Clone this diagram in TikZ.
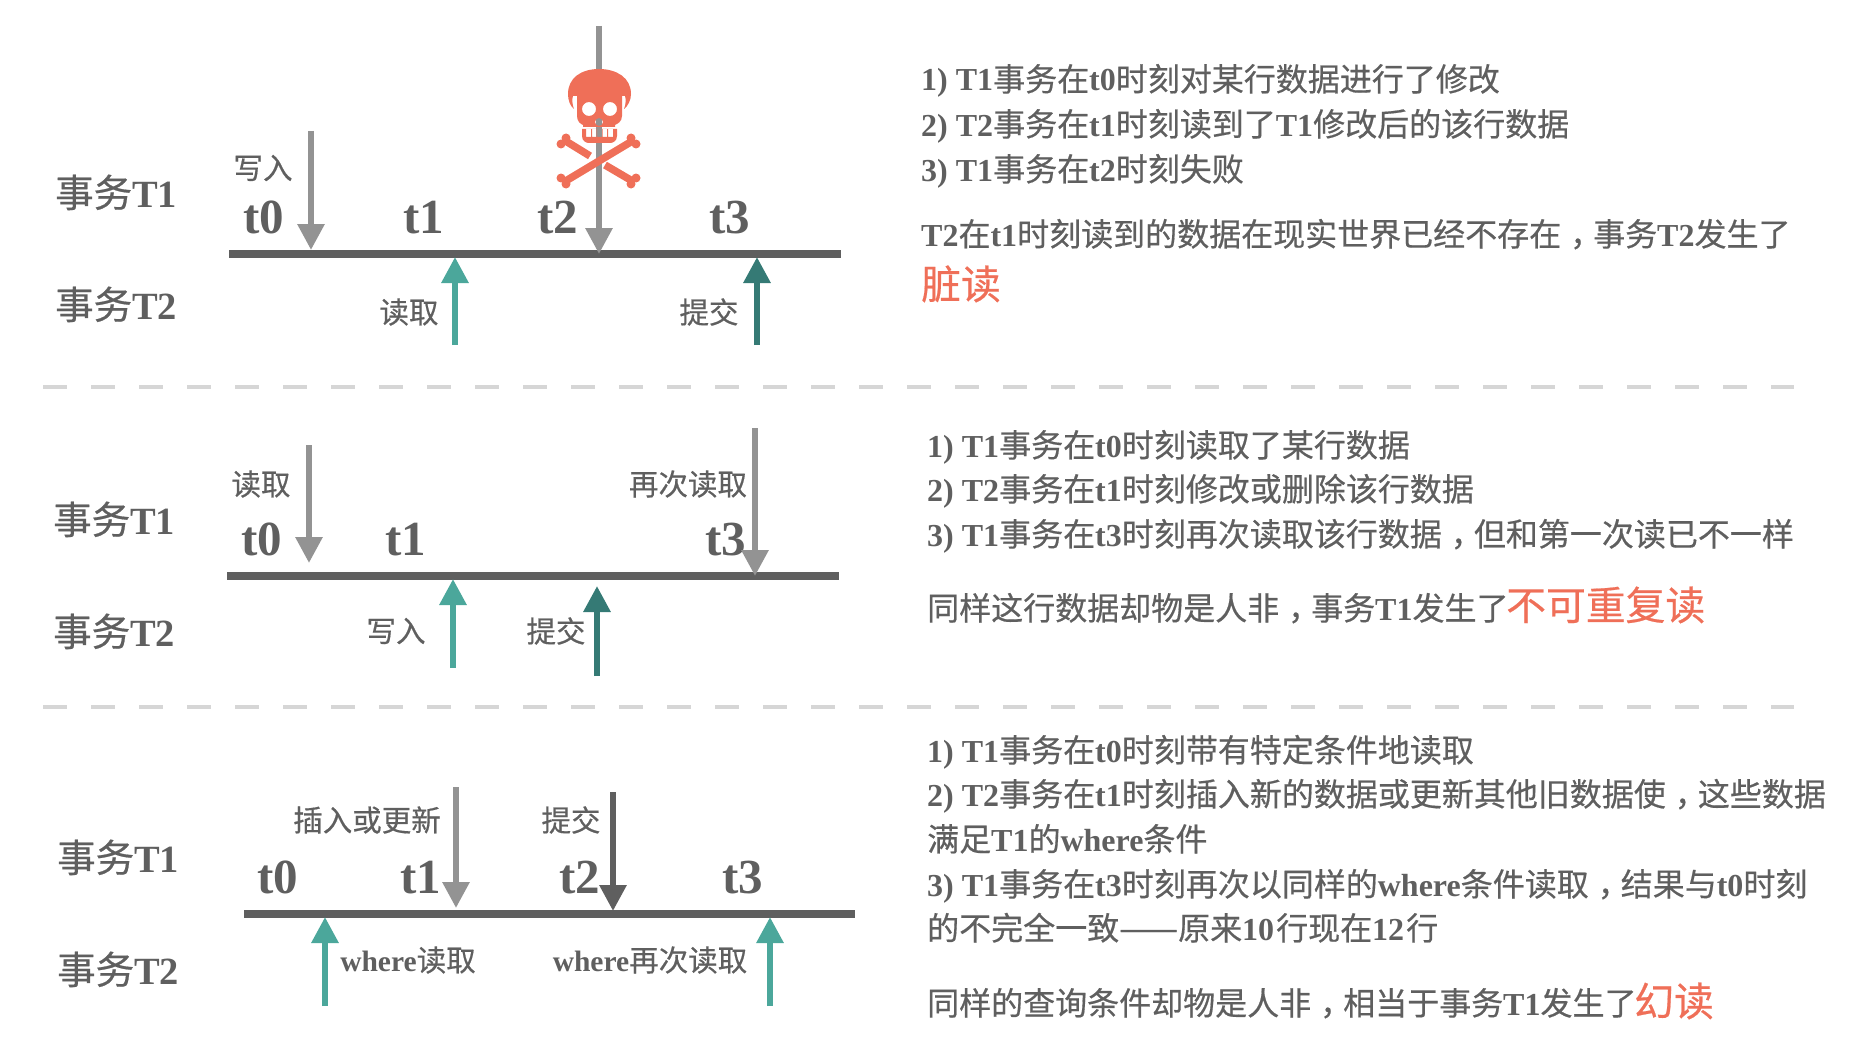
\documentclass[tikz,border=0pt]{standalone}
\usepackage{fontspec}
\usetikzlibrary{arrows.meta}
\setmainfont[FakeBold=0.5]{Noto Sans CJK SC}
\newfontfamily\enfont{Liberation Serif Bold}
\newcommand{\en}[1]{{\enfont #1}}
\newcommand{\cm}{\kern.28em，\kern-.28em}
\definecolor{textgrey}{HTML}{5F5F5F}
\definecolor{arrowgrey}{HTML}{939393}
\definecolor{lightteal}{HTML}{4BA79B}
\definecolor{darkteal}{HTML}{357A75}
\definecolor{skullred}{HTML}{EF6F58}
\definecolor{dashgrey}{HTML}{D6D6D6}
\tikzset{
  every node/.append style={inner sep=0pt,text=textgrey},
  txname/.style={anchor=base west,font=\fontsize{38.5}{38}\selectfont},
  timelabel/.style={anchor=base,font=\fontsize{49}{49}\selectfont},
  oplabel/.style={font=\fontsize{29.5}{30}\selectfont},
  noteline/.style={anchor=base west,font=\fontsize{32}{32}\selectfont},
  redword/.style={anchor=base west,text=skullred,font=\fontsize{39.8}{39}\selectfont},
  timeline/.style={draw=textgrey,line width=8pt},
  sepline/.style={draw=dashgrey,line width=4pt,dash pattern=on 24pt off 24pt},
  greyarrow/.style={draw=arrowgrey,line width=6pt,-{Triangle[length=26pt,width=26pt,fill=arrowgrey]}},
  darkarrow/.style={draw=textgrey,line width=6pt,-{Triangle[length=26pt,width=26pt,fill=textgrey]}},
  tealarrow/.style={draw=lightteal,line width=6pt,-{Triangle[length=26pt,width=26pt,fill=lightteal]}},
  deeparrow/.style={draw=darkteal,line width=6pt,-{Triangle[length=26pt,width=26pt,fill=darkteal]}},
  bone/.style={draw=skullred,line width=7.5pt}
}
\begin{document}
\begin{tikzpicture}[x=1pt,y=-1pt]
    \useasboundingbox (0,0) rectangle (1852,1054);
    % first case
    \draw (55,207) node [txname] (firstta) {事务\en{T1}};
    \draw (55,319) node [txname] (firsttb) {事务\en{T2}};
    \coordinate (firststart) at (229,254);
    \coordinate (firstend) at (841,254);
    \draw [timeline] (firststart) -- (firstend);
    \draw (264,233) node [timelabel] (firstzero) {\en{t0}};
    \draw (424,233) node [timelabel] (firstone) {\en{t1}};
    \draw (558,233) node [timelabel] (firsttwo) {\en{t2}};
    \draw (730,233) node [timelabel] (firstthree) {\en{t3}};
    \coordinate (firstwritetop) at (311,131);
    \coordinate (firstwritetip) at (311,250);
    \draw [greyarrow] (firstwritetop) -- (firstwritetip);
    \coordinate (firstfailtop) at (599,26);
    \coordinate (firstfailtip) at (599,254);
    \draw [greyarrow] (firstfailtop) -- (firstfailtip);
    \coordinate (firstreadend) at (455,345);
    \coordinate (firstreadtip) at (455,257);
    \draw [tealarrow] (firstreadend) -- (firstreadtip);
    \coordinate (firstdoneend) at (757,345);
    \coordinate (firstdonetip) at (757,257);
    \draw [deeparrow] (firstdoneend) -- (firstdonetip);
    \draw (263,168) node [oplabel] (firstwrite) {写入};
    \draw (409,312) node [oplabel] (firstread) {读取};
    \draw (709,312) node [oplabel] (firstdone) {提交};
    % skull
    \fill [skullred,even odd rule] (599,69) .. controls (581,69) and (568,78) .. (568,94) .. controls (568,100) and (570,106) .. (574,109) .. controls (572,104) and (572,99) .. (573,96) -- (577,96) -- (577,116) .. controls (577,122) and (581,124) .. (583,125) -- (583,127) -- (615,127) -- (615,125) .. controls (617,124) and (622,122) .. (622,116) -- (622,96) -- (625,96) .. controls (626,99) and (626,104) .. (624,109) .. controls (628,106) and (631,100) .. (631,94) .. controls (631,78) and (617,69) .. (599,69) -- cycle
        (589,109) circle (7) (610,109) circle (7) (599,122) circle (4);
    \fill [skullred,even odd rule] (582,129) -- (617,129) -- (617,136) .. controls (617,141) and (613,143) .. (610,143) -- (589,143) .. controls (586,143) and (582,141) .. (582,136) -- cycle
        (586,129) rectangle (591,137) (592,129) rectangle (597,137) (596.5,129) rectangle (602.5,137) (602,129) rectangle (607,137) (608,129) rectangle (613,137);
    \draw [bone] (564,182) -- (634,140);
    \draw [bone] (564,140) -- (590,156);
    \draw [bone] (605,165) -- (634,182);
    \fill [skullred] (631,138) circle (4.5);
    \fill [skullred] (636,144) circle (4.5);
    \fill [skullred] (566,138) circle (4.5);
    \fill [skullred] (561,144) circle (4.5);
    \fill [skullred] (631,184) circle (4.5);
    \fill [skullred] (636,178) circle (4.5);
    \fill [skullred] (566,184) circle (4.5);
    \fill [skullred] (561,178) circle (4.5);
    \draw (921,91) node [noteline] (firstnotea) {\en{1) T1}事务在\en{t0}时刻对某行数据进行了修改};
    \draw (921,136) node [noteline] (firstnoteb) {\en{2) T2}事务在\en{t1}时刻读到了\en{T1}修改后的该行数据};
    \draw (921,181) node [noteline] (firstnotec) {\en{3) T1}事务在\en{t2}时刻失败};
    \draw (921,246) node [noteline] (firstnoted) {\en{T2}在\en{t1}时刻读到的数据在现实世界已经不存在\cm 事务\en{T2}发生了};
    \draw (921,299) node [redword] (firstword) {脏读};
    % separator
    \coordinate (sepastart) at (43,387);
    \coordinate (sepaend) at (1794,387);
    \draw [sepline] (sepastart) -- (sepaend);
    % second case
    \draw (53,534) node [txname] (secondta) {事务\en{T1}};
    \draw (53,646) node [txname] (secondtb) {事务\en{T2}};
    \coordinate (secondstart) at (227,576);
    \coordinate (secondend) at (839,576);
    \draw [timeline] (secondstart) -- (secondend);
    \draw (262,555) node [timelabel] (secondzero) {\en{t0}};
    \draw (406,555) node [timelabel] (secondone) {\en{t1}};
    \draw (726,555) node [timelabel] (secondthree) {\en{t3}};
    \coordinate (secondreadtop) at (309,445);
    \coordinate (secondreadtip) at (309,563);
    \draw [greyarrow] (secondreadtop) -- (secondreadtip);
    \coordinate (secondagaintop) at (755,428);
    \coordinate (secondagaintip) at (755,576);
    \draw [greyarrow] (secondagaintop) -- (secondagaintip);
    \coordinate (secondwriteend) at (453,668);
    \coordinate (secondwritetip) at (453,579);
    \draw [tealarrow] (secondwriteend) -- (secondwritetip);
    \coordinate (seconddoneend) at (597,676);
    \coordinate (seconddonetip) at (597,586);
    \draw [deeparrow] (seconddoneend) -- (seconddonetip);
    \draw (261,484) node [oplabel] (secondread) {读取};
    \draw (688,484) node [oplabel] (secondagain) {再次读取};
    \draw (396,631) node [oplabel] (secondwrite) {写入};
    \draw (556,631) node [oplabel] (seconddone) {提交};
    \draw (927,457) node [noteline] (secondnotea) {\en{1) T1}事务在\en{t0}时刻读取了某行数据};
    \draw (927,501) node [noteline] (secondnoteb) {\en{2) T2}事务在\en{t1}时刻修改或删除该行数据};
    \draw (927,546) node [noteline] (secondnotec) {\en{3) T1}事务在\en{t3}时刻再次读取该行数据\cm 但和第一次读已不一样};
    \draw (927,620) node [noteline] (secondnoted) {同样这行数据却物是人非\cm 事务\en{T1}发生了};
    \draw (1506,620) node [redword] (secondword) {不可重复读};
    % separator
    \coordinate (sepbstart) at (43,707);
    \coordinate (sepbend) at (1794,707);
    \draw [sepline] (sepbstart) -- (sepbend);
    % third case
    \draw (57,872) node [txname] (thirdta) {事务\en{T1}};
    \draw (57,984) node [txname] (thirdtb) {事务\en{T2}};
    \coordinate (thirdstart) at (244,914);
    \coordinate (thirdend) at (855,914);
    \draw [timeline] (thirdstart) -- (thirdend);
    \draw (278,893) node [timelabel] (thirdzero) {\en{t0}};
    \draw (421,893) node [timelabel] (thirdone) {\en{t1}};
    \draw (580,893) node [timelabel] (thirdtwo) {\en{t2}};
    \draw (743,893) node [timelabel] (thirdthree) {\en{t3}};
    \coordinate (thirdinserttop) at (456,787);
    \coordinate (thirdinserttip) at (456,908);
    \draw [greyarrow] (thirdinserttop) -- (thirdinserttip);
    \coordinate (thirddonetop) at (613,792);
    \coordinate (thirddonetip) at (613,911);
    \draw [darkarrow] (thirddonetop) -- (thirddonetip);
    \coordinate (thirdreadend) at (325,1006);
    \coordinate (thirdreadtip) at (325,917);
    \draw [tealarrow] (thirdreadend) -- (thirdreadtip);
    \coordinate (thirdagainend) at (770,1006);
    \coordinate (thirdagaintip) at (770,917);
    \draw [tealarrow] (thirdagainend) -- (thirdagaintip);
    \draw (367,820) node [oplabel] (thirdinsert) {插入或更新};
    \draw (571,820) node [oplabel] (thirddone) {提交};
    \draw (408,960) node [oplabel] (thirdread) {\en{where}读取};
    \draw (650,960) node [oplabel] (thirdagain) {\en{where}再次读取};
    \draw (927,762) node [noteline] (thirdnotea) {\en{1) T1}事务在\en{t0}时刻带有特定条件地读取};
    \draw (927,806) node [noteline] (thirdnoteb) {\en{2) T2}事务在\en{t1}时刻插入新的数据或更新其他旧数据使\cm 这些数据};
    \draw (927,851) node [noteline] (thirdnotec) {满足\en{T1}的\en{where}条件};
    \draw (927,896) node [noteline] (thirdnoted) {\en{3) T1}事务在\en{t3}时刻再次以同样的\en{where}条件读取\cm 结果与\en{t0}时刻};
    \draw (927,940) node [noteline] (thirdnotee) {的不完全一致\scalebox{1.1}[1]{——}原来\en{10}\kern2pt 行现在\en{12}\kern2pt 行};
    \draw (927,1015) node [noteline] (thirdnotef) {同样的查询条件却物是人非\cm 相当于事务\en{T1}发生了};
    \draw (1634,1016) node [redword] (thirdword) {幻读};
\end{tikzpicture}
\end{document}
